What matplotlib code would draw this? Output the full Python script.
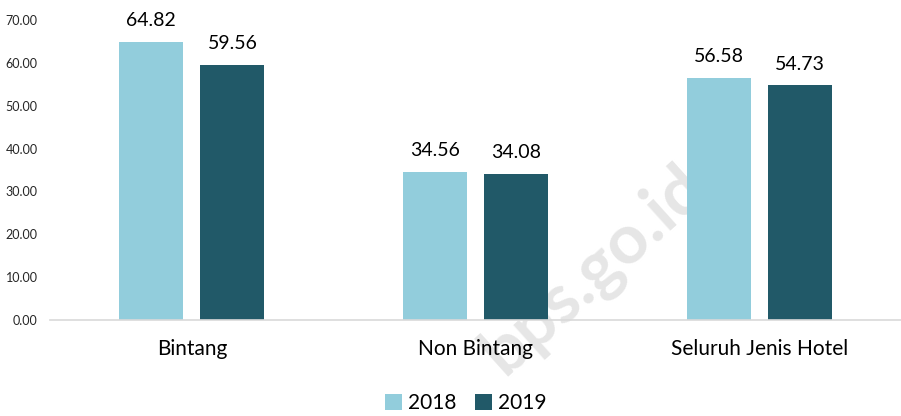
import matplotlib.pyplot as plt
import numpy as np

plt.rcParams['font.family'] = ['Lato', 'DejaVu Sans']

kategori = ['Bintang', 'Non Bintang', 'Seluruh Jenis Hotel']
tahun = ['2018', '2019']
nilai_2018 = [64.82, 34.56, 56.58]
nilai_2019 = [59.56, 34.08, 54.73]
yticks = [0, 10, 20, 30, 40, 50, 60, 70]

warna = ['#92CDDC', '#215968']

fig = plt.figure(figsize=(9.01, 4.16), dpi=100)
ax = fig.add_axes([50 / 901, 96 / 416, 851 / 901, 300 / 416])
ax.patch.set_alpha(0)

x = np.arange(len(kategori))
lebar = 0.225
offset = 0.143

b1 = ax.bar(x - offset, nilai_2018, lebar, color=warna[0], label=tahun[0])
b2 = ax.bar(x + offset, nilai_2019, lebar, color=warna[1], label=tahun[1])

for bars in (b1, b2):
    for b in bars:
        ax.text(b.get_x() + b.get_width() / 2, b.get_height() + 3.0,
                f'{b.get_height():.2f}', ha='center', va='bottom', fontsize=14, color='#000000')

ax.set_xlim(-0.5, 2.5)
ax.set_ylim(0, 70)
ax.set_yticks(yticks)
ax.set_yticklabels([f'{v:.2f}' for v in yticks], fontsize=9, color='#262626')
ax.set_xticks(x)
ax.set_xticklabels(kategori, fontsize=15)
ax.tick_params(axis='both', length=0)
ax.tick_params(axis='y', pad=9)
ax.tick_params(axis='x', pad=14)
for s in ['top', 'right', 'left']:
    ax.spines[s].set_visible(False)
ax.spines['bottom'].set_color('#D9D9D9')
ax.spines['bottom'].set_linewidth(1.2)

fig.legend(handles=[b1, b2], loc='center', bbox_to_anchor=(466 / 901, 1 - 403 / 416),
           ncol=2, frameon=False, fontsize=15, handlelength=0.8, handleheight=0.8,
           handletextpad=0.3, columnspacing=0.9)

# watermark di belakang batang
fig.text(0.66, 0.35, 'bps.go.id', fontsize=50, fontweight='bold', color='#E6E6E6',
         rotation=42, ha='center', va='center', zorder=-1)

fig.savefig('out.png', dpi=100)
